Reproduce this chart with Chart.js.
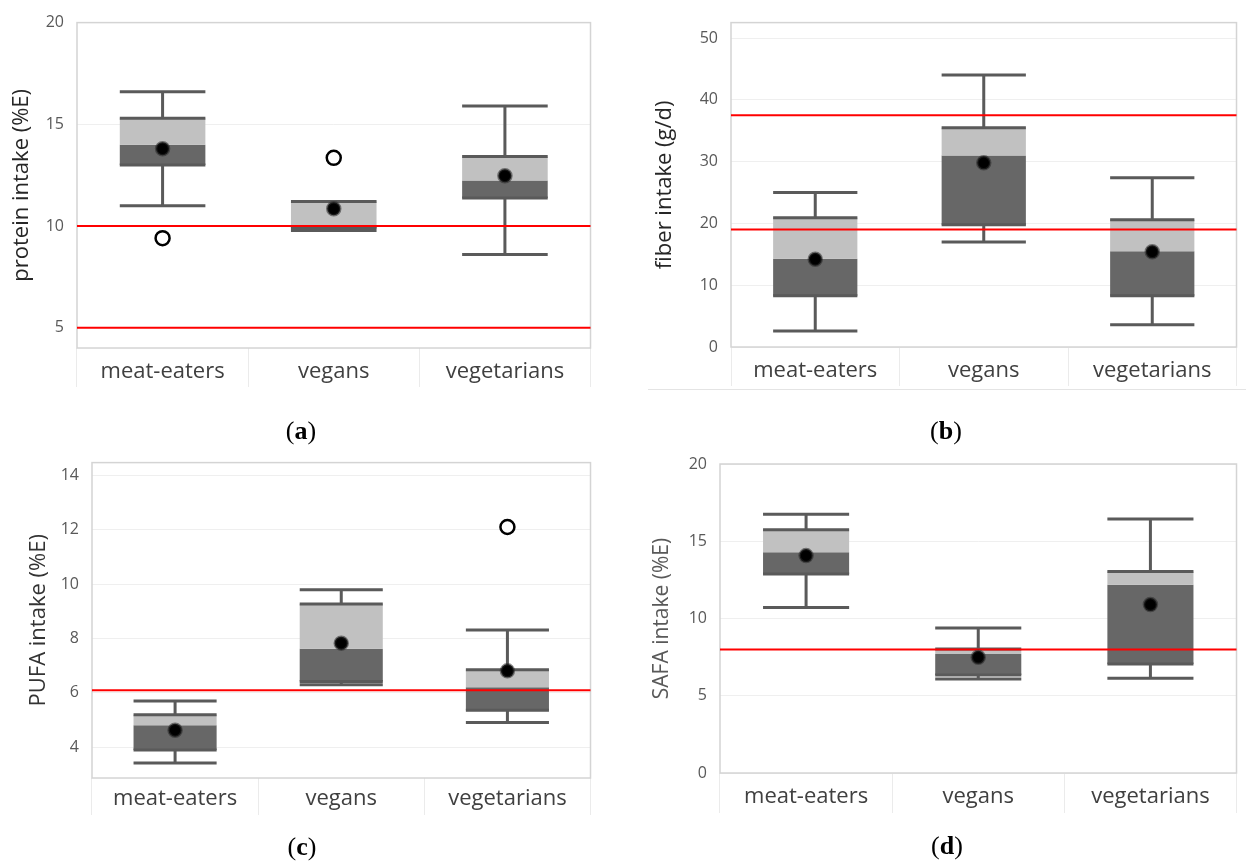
<!DOCTYPE html>
<html><head><meta charset="utf-8">
<script src="https://cdn.jsdelivr.net/npm/chart.js@4.4.1/dist/chart.umd.min.js"></script>
<style>
html,body{margin:0;padding:0;background:#fff;}
body{width:1246px;height:864px;position:relative;overflow:hidden;}
.panel{position:absolute;}
.lab{position:absolute;font-family:'Liberation Serif','DejaVu Serif',serif;font-size:26px;color:#000;transform:translate(-50%,-50%);white-space:nowrap;}
.sep{position:absolute;height:0;border-top:1px solid #e4e4e4;}
</style></head><body>
<div class="panel" style="left:0;top:0;"><canvas id="cA" width="600" height="400"></canvas></div>
<div class="panel" style="left:620px;top:0;"><canvas id="cB" width="626" height="400"></canvas></div>
<div class="panel" style="left:0;top:440px;"><canvas id="cC" width="600" height="400"></canvas></div>
<div class="panel" style="left:620px;top:440px;"><canvas id="cD" width="626" height="400"></canvas></div>
<div class="sep" style="left:648px;top:389px;width:598px;"></div>
<div class="lab" style="left:301px;top:431px;">(<b>a</b>)</div>
<div class="lab" style="left:946px;top:431px;">(<b>b</b>)</div>
<div class="lab" style="left:302px;top:847px;">(<b>c</b>)</div>
<div class="lab" style="left:947px;top:846px;">(<b>d</b>)</div>
<script>
const categories = ['meat-eaters', 'vegans', 'vegetarians'];

// (a) protein intake (%E)
const proteinLow     = [11.0, 9.78, 8.6];
const proteinQ1      = [13.0, 9.88, 11.37];
const proteinMedian  = [14.0, 10.05, 12.23];
const proteinQ3      = [15.3, 11.2, 13.42];
const proteinHigh    = [16.6, 11.2, 15.9];
const proteinMean    = [13.8, 10.85, 12.47];
const proteinOutlier = [9.4, 13.35, null];
const proteinRefs    = [10, 5];
const proteinTicks   = [5, 10, 15, 20];

// (b) fiber intake (g/d)
const fiberLow     = [2.6, 17.0, 3.6];
const fiberQ1      = [8.3, 19.8, 8.3];
const fiberMedian  = [14.3, 31.0, 15.5];
const fiberQ3      = [20.9, 35.5, 20.6];
const fiberHigh    = [25.0, 44.0, 27.4];
const fiberMean    = [14.2, 29.8, 15.4];
const fiberOutlier = [null, null, null];
const fiberRefs    = [37.5, 19];
const fiberTicks   = [0, 10, 20, 30, 40, 50];

// (c) PUFA intake (%E)
const pufaLow     = [3.42, 6.3, 4.91];
const pufaQ1      = [3.9, 6.42, 5.36];
const pufaMedian  = [4.81, 7.62, 6.21];
const pufaQ3      = [5.2, 9.27, 6.85];
const pufaHigh    = [5.7, 9.79, 8.31];
const pufaMean    = [4.63, 7.83, 6.81];
const pufaOutlier = [null, null, 12.1];
const pufaRefs    = [6.1];
const pufaTicks   = [4, 6, 8, 10, 12, 14];

// (d) SAFA intake (%E)
const safaLow     = [10.72, 6.08, 6.13];
const safaQ1      = [12.88, 6.34, 7.05];
const safaMedian  = [14.28, 7.7, 12.19];
const safaQ3      = [15.75, 8.03, 13.05];
const safaHigh    = [16.74, 9.39, 16.44];
const safaMean    = [14.07, 7.49, 10.9];
const safaOutlier = [null, null, null];
const safaRefs    = [8];
const safaTicks   = [0, 5, 10, 15, 20];

const boxPlugin = {
  id: 'boxplot',
  beforeDatasetsDraw(chart) {
    const {ctx, chartArea: a} = chart;
    ctx.save();
    ctx.strokeStyle = '#d4d4d4';
    ctx.lineWidth = 1.5;
    ctx.strokeRect(a.left, a.top, a.right - a.left, a.bottom - a.top);
    ctx.restore();
  },
  afterDatasetDraw(chart, args, opts) {
    if (args.index !== 1) return;
    const {ctx, chartArea: a} = chart;
    const y = chart.scales.y;
    const meta = chart.getDatasetMeta(0);
    ctx.save();
    ctx.strokeStyle = '#5a5a5a';
    ctx.lineWidth = 3;
    meta.data.forEach((bar, i) => {
      const x = bar.x, w = bar.width / 2;
      const yLo = y.getPixelForValue(opts.low[i]);
      const yQ1 = y.getPixelForValue(opts.q1[i]);
      const yQ3 = y.getPixelForValue(opts.q3[i]);
      const yHi = y.getPixelForValue(opts.high[i]);
      ctx.beginPath();
      ctx.moveTo(x, yLo); ctx.lineTo(x, yQ1);
      ctx.moveTo(x, yQ3); ctx.lineTo(x, yHi);
      ctx.moveTo(x - w, yLo); ctx.lineTo(x + w, yLo);
      ctx.moveTo(x - w, yHi); ctx.lineTo(x + w, yHi);
      ctx.moveTo(x - w, yQ1); ctx.lineTo(x + w, yQ1);
      ctx.moveTo(x - w, yQ3); ctx.lineTo(x + w, yQ3);
      ctx.stroke();
    });
    ctx.strokeStyle = '#ff0000';
    ctx.lineWidth = 2;
    opts.refs.forEach(v => {
      const yy = y.getPixelForValue(v);
      ctx.beginPath(); ctx.moveTo(a.left, yy); ctx.lineTo(a.right, yy); ctx.stroke();
    });
    ctx.restore();
  }
};

function makePanel(id, p) {
  new Chart(document.getElementById(id), {
    type: 'bar',
    data: {
      labels: categories,
      datasets: [
        { type: 'bar', data: categories.map((_, i) => [p.q1[i], p.med[i]]), backgroundColor: '#676767',
          grouped: false, order: 4, barPercentage: 0.5, categoryPercentage: 1 },
        { type: 'bar', data: categories.map((_, i) => [p.med[i], p.q3[i]]), backgroundColor: '#c1c1c1',
          grouped: false, order: 3, barPercentage: 0.5, categoryPercentage: 1 },
        { type: 'line', data: p.outlier, showLine: false, pointRadius: 7, pointBackgroundColor: '#fff',
          pointBorderColor: '#000', pointBorderWidth: 2.5, order: 2 },
        { type: 'line', data: p.mean, showLine: false, pointRadius: 6.5, pointBackgroundColor: '#000',
          pointBorderColor: 'rgba(40,40,40,0.55)', pointBorderWidth: 2.5, order: 1 }
      ]
    },
    options: {
      responsive: false,
      animation: false,
      layout: { padding: p.pad },
      plugins: {
        legend: { display: false },
        tooltip: { enabled: false },
        boxplot: { low: p.low, q1: p.q1, q3: p.q3, high: p.high, refs: p.refs }
      },
      scales: {
        x: {
          offset: true,
          grid: { offset: true, drawOnChartArea: false, drawTicks: true, tickLength: p.xh, color: '#ebebeb', lineWidth: 1 },
          border: { display: false },
          ticks: { font: { family: 'Open Sans', size: 22 }, color: '#404040', padding: p.xpad, maxRotation: 0, autoSkip: false },
          afterFit: s => { s.height = p.xh; }
        },
        y: {
          min: p.min, max: p.max,
          afterBuildTicks: s => { s.ticks = p.ticks.map(v => ({ value: v })); },
          grid: { color: '#efefef', drawTicks: false, lineWidth: 1 },
          border: { display: false },
          ticks: { font: { family: 'Open Sans', size: 16 }, color: '#595959', padding: 13 },
          title: { display: true, text: p.title, color: p.tcolor, font: { family: 'Open Sans', size: p.tsize },
                   padding: { top: p.tpad, bottom: 0 } },
          afterFit: s => { s.width = p.yw; }
        }
      }
    },
    plugins: [boxPlugin]
  });
}

makePanel('cA', { low: proteinLow, q1: proteinQ1, med: proteinMedian, q3: proteinQ3, high: proteinHigh,
  mean: proteinMean, outlier: proteinOutlier, refs: proteinRefs, ticks: proteinTicks, min: 4, max: 20,
  title: 'protein intake (%E)', tcolor: '#262626', tsize: 22, tpad: 9,
  pad: { left: 0, top: 20, right: 5, bottom: 13 }, yw: 77, xh: 39, xpad: -28 });

makePanel('cB', { low: fiberLow, q1: fiberQ1, med: fiberMedian, q3: fiberQ3, high: fiberHigh,
  mean: fiberMean, outlier: fiberOutlier, refs: fiberRefs, ticks: fiberTicks, min: 0, max: 52.5,
  title: 'fiber intake (g/d)', tcolor: '#262626', tsize: 22, tpad: 32,
  pad: { left: 0, top: 20, right: 1, bottom: 14 }, yw: 111, xh: 39, xpad: -28 });

makePanel('cC', { low: pufaLow, q1: pufaQ1, med: pufaMedian, q3: pufaQ3, high: pufaHigh,
  mean: pufaMean, outlier: pufaOutlier, refs: pufaRefs, ticks: pufaTicks, min: 2.87, max: 14.47,
  title: 'PUFA intake (%E)', tcolor: '#333333', tsize: 22, tpad: 26,
  pad: { left: 0, top: 19, right: 3, bottom: 25 }, yw: 92, xh: 37, xpad: -29 });

makePanel('cD', { low: safaLow, q1: safaQ1, med: safaMedian, q3: safaQ3, high: safaHigh,
  mean: safaMean, outlier: safaOutlier, refs: safaRefs, ticks: safaTicks, min: 0, max: 20,
  title: 'SAFA intake (%E)', tcolor: '#595959', tsize: 21, tpad: 29,
  pad: { left: 0, top: 24, right: 0, bottom: 27 }, yw: 100, xh: 40, xpad: -29 });
</script>
</body></html>
